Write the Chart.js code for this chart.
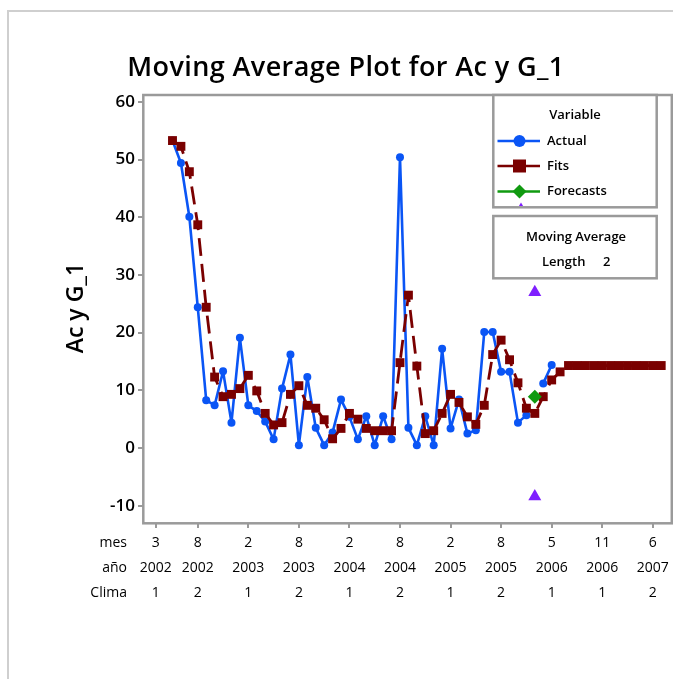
<!DOCTYPE html>
<html>
<head>
<meta charset="utf-8">
<script src="https://cdn.jsdelivr.net/npm/chart.js@4.4.1/dist/chart.umd.min.js"></script>
<style>
  html, body { margin: 0; padding: 0; background: #ffffff; }
  #wrap { position: relative; width: 673px; height: 679px; }
</style>
</head>
<body>
<div id="wrap"><canvas id="c" width="673" height="679"></canvas></div>
<script>
// Time index of the first observation on the axis
const firstIndex = 3;

// Observed series (null = missing observation)
const actualValues = [
  53.3, 49.4, 40.1, 24.4, 8.3, 7.4, 13.3, 4.4, 19.1, 7.4,
  6.4, 4.6, 1.5, 10.3, 16.2, 0.5, 12.3, 3.5, 0.5, 2.7,
  8.4, 5.4, 1.5, 5.5, 0.5, 5.5, 1.5, 50.4, 3.5, 0.5,
  5.5, 0.5, 17.2, 3.4, 8.4, 2.5, 3.1, 20.1, 20.1, 13.2,
  13.2, 4.4, 5.7, null, 11.2, 14.4
];

// Moving average fits (length 2), continuing as flat forecasts
const fitValues = [
  53.3, 52.3, 47.9, 38.7, 24.4, 12.3, 8.9, 9.3, 10.3, 12.6,
  9.9, 6.0, 4.0, 4.4, 9.3, 10.8, 7.4, 6.9, 4.9, 1.6,
  3.4, 6.0, 5.0, 3.4, 3.0, 3.0, 3.0, 14.8, 26.5, 14.2,
  2.5, 3.0, 6.0, 9.3, 7.9, 5.4, 4.1, 7.4, 16.2, 18.7,
  15.3, 11.3, 6.9, 6.0, 8.9, 11.8, 13.2, 14.3, 14.3, 14.3,
  14.3, 14.3, 14.3, 14.3, 14.3, 14.3, 14.3, 14.3, 14.3
];

// Forecast and its 95% prediction limits
const forecastIndex = [46];
const forecastValue = [8.9];
const upperLimit = [27.0];
const lowerLimit = [-8.4];

// Time axis stamps
const tickIndices = [1, 6, 12, 18, 24, 30, 36, 42, 48, 54, 60];
const mesLabels   = ['3', '8', '2', '8', '2', '8', '2', '8', '5', '11', '6'];
const anioLabels  = ['2002', '2002', '2003', '2003', '2004', '2004', '2005', '2005', '2006', '2006', '2007'];
const climaLabels = ['1', '2', '1', '2', '1', '2', '1', '2', '1', '1', '2'];
const stampNames  = ['mes', 'año', 'Clima'];

const yTicks = [-10, 0, 10, 20, 30, 40, 50, 60];

const FONT = "'Open Sans', 'Noto Sans', 'DejaVu Sans', sans-serif";
const BLUE = '#0A55F5';
const DARKRED = '#7A0000';
const GREEN = '#109A10';
const PURPLE = '#7F1FFF';
const FRAME = '#9A9A9A';

const toPoints = (vals) => vals.map((v, i) => ({ x: firstIndex + i, y: v }));
const atIndex = (idx, vals) => vals.map((v, i) => ({ x: idx[i], y: v }));

// Frame, titles, stamp row names and legend boxes
const decorations = {
  id: 'decorations',
  beforeDraw(chart) {
    const ctx = chart.ctx;
    ctx.save();
    ctx.fillStyle = '#ffffff';
    ctx.fillRect(0, 0, chart.width, chart.height);
    ctx.strokeStyle = '#CFCFCF';
    ctx.lineWidth = 2;
    ctx.beginPath();
    ctx.moveTo(8, chart.height);
    ctx.lineTo(8, 11);
    ctx.lineTo(chart.width, 11);
    ctx.stroke();
    ctx.restore();
  },
  beforeDatasetsDraw(chart) {
    const { ctx, chartArea: a } = chart;
    ctx.save();
    ctx.strokeStyle = FRAME;
    ctx.lineWidth = 2.5;
    ctx.strokeRect(a.left + 0.3, a.top, a.right - a.left - 1.5, a.bottom - a.top + 0.3);
    ctx.restore();
  },
  afterDatasetsDraw(chart) {
    const ctx = chart.ctx;
    ctx.save();
    // Variable legend
    const L = 493.3, R = 656.7;
    ctx.fillStyle = '#ffffff';
    ctx.fillRect(L, 95, R - L, 112.3);
    // clipped prediction-limit symbol peeking under the legend entries
    ctx.save();
    ctx.beginPath();
    ctx.rect(L, 95, R - L, 111);
    ctx.clip();
    ctx.fillStyle = PURPLE;
    ctx.beginPath();
    ctx.moveTo(521, 202.5);
    ctx.lineTo(527.5, 213.5);
    ctx.lineTo(514.5, 213.5);
    ctx.closePath();
    ctx.fill();
    ctx.restore();

    ctx.strokeStyle = FRAME;
    ctx.lineWidth = 2.5;
    ctx.strokeRect(L, 95, R - L, 112.3);

    ctx.fillStyle = '#000';
    ctx.font = `600 13px ${FONT}`;
    ctx.textBaseline = 'middle';
    ctx.textAlign = 'center';
    ctx.fillText('Variable', 575, 115);
    ctx.textAlign = 'left';
    const entries = [
      { name: 'Actual', y: 141, color: BLUE, style: 'circle' },
      { name: 'Fits', y: 166, color: DARKRED, style: 'square' },
      { name: 'Forecasts', y: 191.5, color: GREEN, style: 'diamond' }
    ];
    entries.forEach(e => {
      ctx.strokeStyle = e.color;
      ctx.fillStyle = e.color;
      ctx.lineWidth = 2.5;
      ctx.beginPath();
      ctx.moveTo(497.5, e.y);
      ctx.lineTo(540, e.y);
      ctx.stroke();
      ctx.beginPath();
      if (e.style === 'circle') {
        ctx.arc(519.5, e.y, 6, 0, Math.PI * 2);
      } else if (e.style === 'square') {
        ctx.rect(513, e.y - 6.5, 13, 13);
      } else {
        ctx.moveTo(519.5, e.y - 7);
        ctx.lineTo(526.5, e.y);
        ctx.lineTo(519.5, e.y + 7);
        ctx.lineTo(512.5, e.y);
        ctx.closePath();
      }
      ctx.fill();
      ctx.fillStyle = '#000';
      ctx.fillText(e.name, 547, e.y);
    });

    // Method box
    ctx.fillStyle = '#ffffff';
    ctx.fillRect(L, 216, R - L, 62.3);
    ctx.strokeStyle = FRAME;
    ctx.lineWidth = 2.5;
    ctx.strokeRect(L, 216, R - L, 62.3);
    ctx.fillStyle = '#000';
    ctx.textAlign = 'center';
    ctx.fillText('Moving Average', 576, 237);
    ctx.textAlign = 'left';
    ctx.fillText('Length', 542, 262.5);
    ctx.fillText('2', 603, 262.5);
    ctx.restore();
  },
  afterDraw(chart) {
    const ctx = chart.ctx;
    ctx.save();
    ctx.fillStyle = '#000';
    // Main title
    ctx.font = `600 27px ${FONT}`;
    ctx.letterSpacing = '0.4px';
    ctx.textAlign = 'center';
    ctx.textBaseline = 'alphabetic';
    ctx.fillText('Moving Average Plot for Ac y G_1', 346, 76);
    ctx.letterSpacing = '0px';
    // Y axis title
    ctx.save();
    ctx.translate(83, 308);
    ctx.rotate(-Math.PI / 2);
    ctx.font = `600 23px ${FONT}`;
    ctx.textAlign = 'center';
    ctx.textBaseline = 'alphabetic';
    ctx.fillText('Ac y G_1', 0, 0);
    ctx.restore();
    // Stamp row names
    ctx.font = `500 14px ${FONT}`;
    ctx.textAlign = 'right';
    ctx.textBaseline = 'middle';
    const xs = chart.scales.x;
    const rowTop = xs.top + 5 + 3;
    stampNames.forEach((n, j) => ctx.fillText(n, 127, rowTop + 12.5 + j * 25));
    ctx.restore();
  }
};

new Chart(document.getElementById('c'), {
  type: 'line',
  data: {
    datasets: [
      {
        label: 'Forecasts',
        data: atIndex(forecastIndex, forecastValue),
        showLine: false,
        pointStyle: 'rectRot',
        pointRadius: 7,
        pointBackgroundColor: GREEN,
        pointBorderColor: GREEN,
        pointBorderWidth: 0,
        order: 0
      },
      {
        label: 'Upper',
        data: atIndex(forecastIndex, upperLimit),
        showLine: false,
        pointStyle: 'triangle',
        pointRadius: 7.5,
        pointBackgroundColor: PURPLE,
        pointBorderColor: PURPLE,
        pointBorderWidth: 0,
        order: 1
      },
      {
        label: 'Lower',
        data: atIndex(forecastIndex, lowerLimit),
        showLine: false,
        pointStyle: 'triangle',
        pointRadius: 7.5,
        pointBackgroundColor: PURPLE,
        pointBorderColor: PURPLE,
        pointBorderWidth: 0,
        order: 1
      },
      {
        label: 'Fits',
        data: toPoints(fitValues),
        borderColor: DARKRED,
        borderWidth: 2.8,
        borderDash: [18, 8],
        borderJoinStyle: 'round',
        pointStyle: 'rect',
        pointRadius: 6.3,
        pointBackgroundColor: DARKRED,
        pointBorderColor: DARKRED,
        pointBorderWidth: 0,
        tension: 0,
        order: 2
      },
      {
        label: 'Actual',
        data: toPoints(actualValues),
        borderColor: BLUE,
        borderWidth: 2.6,
        borderJoinStyle: 'round',
        pointStyle: 'circle',
        pointRadius: 4,
        pointBackgroundColor: BLUE,
        pointBorderColor: BLUE,
        pointBorderWidth: 0,
        spanGaps: false,
        tension: 0,
        order: 3
      }
    ]
  },
  options: {
    responsive: false,
    animation: false,
    devicePixelRatio: 1,
    events: [],
    layout: { autoPadding: false, padding: { top: 95, left: 0, right: 0, bottom: 0 } },
    plugins: {
      legend: { display: false },
      tooltip: { enabled: false },
      title: { display: false }
    },
    scales: {
      x: {
        type: 'linear',
        min: -0.5,
        max: 62.4,
        afterBuildTicks: (s) => { s.ticks = tickIndices.map(v => ({ value: v })); },
        afterFit: (s) => { s.height = 156; s.paddingLeft = 0; s.paddingRight = 0; },
        border: { display: false },
        grid: { drawOnChartArea: false, drawTicks: true, tickLength: 5, tickColor: FRAME, lineWidth: 2 },
        ticks: {
          autoSkip: false,
          maxRotation: 0,
          minRotation: 0,
          padding: 3,
          color: '#000',
          font: { family: FONT, size: 14, weight: '500', lineHeight: '25px' },
          callback: (v) => {
            const j = tickIndices.indexOf(v);
            return j < 0 ? '' : [mesLabels[j], anioLabels[j], climaLabels[j]];
          }
        }
      },
      y: {
        type: 'linear',
        min: -13,
        max: 61.2,
        afterBuildTicks: (s) => { s.ticks = yTicks.map(v => ({ value: v })); },
        afterFit: (s) => { s.width = 143; s.paddingTop = 0; s.paddingBottom = 0; },
        border: { display: false },
        grid: { drawOnChartArea: false, drawTicks: true, tickLength: 5, tickColor: FRAME, lineWidth: 2 },
        ticks: {
          padding: 3,
          color: '#000',
          font: { family: FONT, size: 17, weight: '600' },
          callback: (v) => String(v)
        }
      }
    }
  },
  plugins: [decorations]
});
</script>
</body>
</html>
